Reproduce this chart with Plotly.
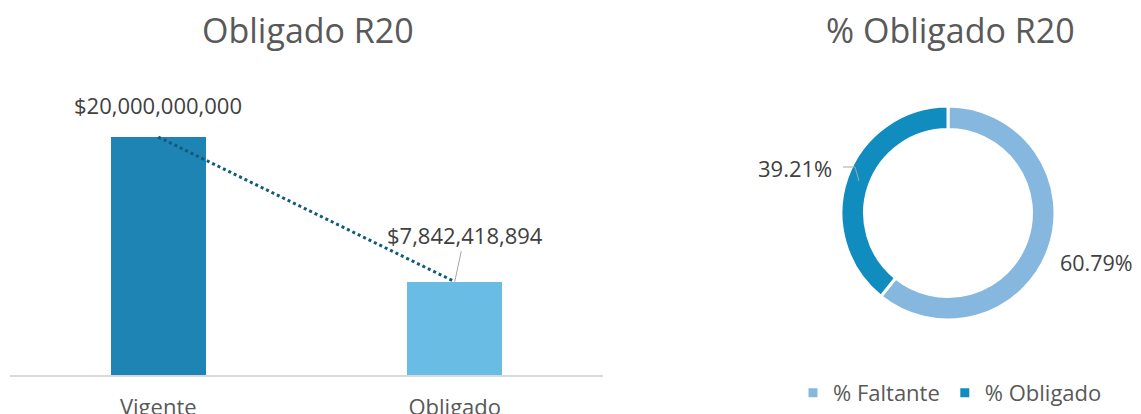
import plotly.graph_objects as go

# ---- data ----
categories = ["Vigente", "Obligado"]
values = [20000000000, 7842418894]
bar_colors = ["#1e84b4", "#69bde4"]

pie_labels = ["% Faltante", "% Obligado"]
pie_values = [60.79, 39.21]
pie_colors = ["#86b8df", "#118cbf"]

W, H = 1141, 414
OFF = 8  # page body margin
FONT = "Open Sans"
TXT = "#595959"
LBL = "#404040"
FS = 22

def px(x):
    return (x - OFF) / W

def py(y):
    return 1 - (y - OFF) / H

fig = go.Figure()

fig.add_trace(go.Bar(
    x=categories, y=values, marker=dict(color=bar_colors, line=dict(width=0)),
    width=0.32, showlegend=False, hoverinfo="x+y",
    xaxis="x", yaxis="y",
))
fig.add_trace(go.Scatter(
    x=categories, y=values, mode="lines",
    line=dict(color="#0f5a7d", width=3, dash="dot"),
    showlegend=False, xaxis="x", yaxis="y",
))

fig.add_trace(go.Pie(
    labels=pie_labels, values=pie_values, sort=False, direction="clockwise",
    rotation=0, hole=0.78, textinfo="none",
    marker=dict(colors=pie_colors, line=dict(color="white", width=3)),
    domain=dict(x=[px(841), px(1055)], y=[py(320), py(106)]),
    showlegend=True,
))

ymax = values[0] / ((375 - 137) / (375 - 80))

fig.update_layout(
    width=W, height=H, margin=dict(l=0, r=0, t=0, b=0),
    paper_bgcolor="white", plot_bgcolor="white",
    font=dict(family=FONT, color=TXT, size=FS),
    xaxis=dict(domain=[px(10), px(603)], showgrid=False, zeroline=False,
               showline=True, linecolor="#d9d9d9", linewidth=2,
               ticks="", tickfont=dict(size=FS, color=TXT), ticklabelstandoff=12),
    yaxis=dict(domain=[py(375), py(80)], range=[0, ymax], visible=False),
    legend=dict(orientation="h", x=px(950), xanchor="center", y=py(393), yanchor="middle",
                font=dict(size=FS, color=TXT), itemwidth=30, traceorder="normal"),
    bargap=0,
)

annots = []
annots.append(dict(text="Obligado R20", x=px(308), y=py(30), xref="paper", yref="paper",
                   showarrow=False, font=dict(size=34, color=TXT), xanchor="center", yanchor="middle"))
annots.append(dict(text="% Obligado R20", x=px(950), y=py(30), xref="paper", yref="paper",
                   showarrow=False, font=dict(size=34, color=TXT), xanchor="center", yanchor="middle"))
annots.append(dict(text=f"${values[0]:,.0f}", x=categories[0], y=values[0], xref="x", yref="y",
                   showarrow=False, yshift=32, font=dict(size=FS, color=LBL)))
annots.append(dict(text=f"${values[1]:,.0f}", x=categories[1], y=values[1], xref="x", yref="y",
                   showarrow=True, arrowhead=0, arrowwidth=1, arrowcolor="#a6a6a6",
                   ax=10, ay=-47, standoff=0, font=dict(size=FS, color=LBL)))
annots.append(dict(text=f"{pie_values[1]:.2f}%", x=px(795), y=py(168), xref="paper", yref="paper",
                   xanchor="center", yanchor="middle",
                   showarrow=False, font=dict(size=FS, color=LBL)))
annots.append(dict(text=f"{pie_values[0]:.2f}%", x=px(1096), y=py(263), xref="paper", yref="paper",
                   xanchor="center", yanchor="middle",
                   showarrow=False, font=dict(size=FS - 0.5, color=LBL)))
fig.update_layout(annotations=annots)

fig.add_shape(type="path", xref="paper", yref="paper",
              path=f"M {px(843)},{py(167)} L {px(855)},{py(167)} L {px(859)},{py(181)}",
              line=dict(color="#a6a6a6", width=1))

fig.write_html("out.html")
